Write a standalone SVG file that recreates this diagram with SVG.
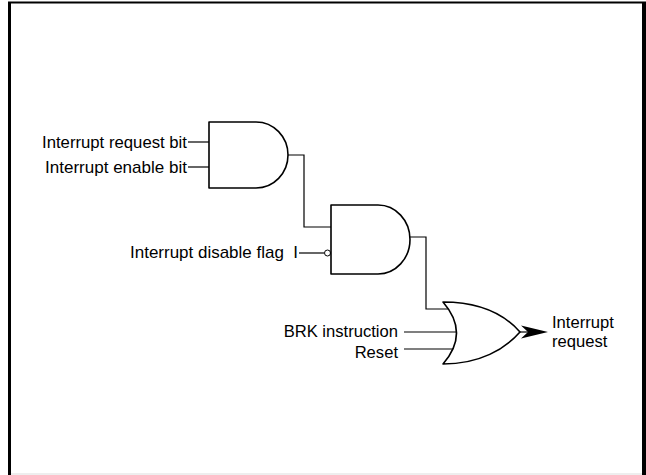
<svg xmlns="http://www.w3.org/2000/svg" width="646" height="475" viewBox="0 0 646 475">
<style>
  .gate{fill:#fff;stroke:#000;stroke-width:1.6;stroke-linejoin:round}
  .wire{fill:none;stroke:#000;stroke-width:1.2}
  text{font-family:"Liberation Sans",Arial,sans-serif;font-size:16.6px;fill:#000}
  .r{text-anchor:end}
</style>
<rect x="0" y="0" width="646" height="475" fill="#fff"/>
<g id="frame">
  <line x1="8" y1="2.5" x2="646" y2="2.5" stroke="#000" stroke-width="2"/>
  <line x1="9.5" y1="2" x2="9.5" y2="475" stroke="#000" stroke-width="3"/>
  <line x1="644" y1="2" x2="644" y2="475" stroke="#000" stroke-width="4"/>
  <line x1="11" y1="474" x2="642" y2="474" stroke="#ddd" stroke-width="1"/>
</g>
<g id="connectors">
  <line class="wire" x1="188" y1="142" x2="209" y2="142"/>
  <line class="wire" x1="188" y1="167" x2="209" y2="167"/>
  <path class="wire" d="M288,155 H304 V227 H331"/>
  <line class="wire" x1="299" y1="253" x2="324" y2="253"/>
  <circle cx="327.5" cy="253" r="3" fill="#fff" stroke="#000" stroke-width="1"/>
  <path class="wire" d="M410,237 H426 V309 H448.5"/>
  <line class="wire" x1="404" y1="332" x2="456" y2="332"/>
  <line class="wire" x1="404" y1="349" x2="453" y2="349"/>
  <line class="wire" x1="519" y1="332" x2="530" y2="332"/>
  <path d="M521,325.5 L548,332 L521,338.5 L528,332 Z" fill="#000"/>
</g>
<g id="and1">
  <path class="gate" d="M209,122 H256 A32,33 0 0 1 256,188 H209 Z"/>
</g>
<g id="and2">
  <path class="gate" d="M331,205 H378 A32,34.5 0 0 1 378,274 H331 Z"/>
</g>
<g id="or1">
  <path class="gate" d="M443,302 C480,302 505,315 520,332 C505,349 480,364 443,364 Q470,333 443,302 Z"/>
</g>
<g id="labels">
  <text class="r" x="187" y="148" textLength="145" lengthAdjust="spacingAndGlyphs">Interrupt request bit</text>
  <text class="r" x="187" y="173" textLength="142" lengthAdjust="spacingAndGlyphs">Interrupt enable bit</text>
  <text x="130" y="258" textLength="168" lengthAdjust="spacingAndGlyphs" xml:space="preserve">Interrupt disable flag  I</text>
  <text class="r" x="398" y="337">BRK instruction</text>
  <text class="r" x="398" y="358">Reset</text>
  <text x="552" y="328">Interrupt</text>
  <text x="552" y="347">request</text>
</g>
</svg>
